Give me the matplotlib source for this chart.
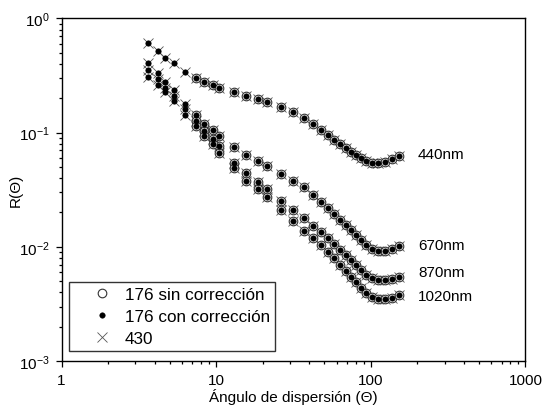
import matplotlib
matplotlib.use("Agg")
import matplotlib.pyplot as plt
from matplotlib.ticker import LogLocator, NullFormatter, FixedLocator, FixedFormatter

plt.rcParams['font.family'] = ['Liberation Sans', 'DejaVu Sans']
plt.rcParams['mathtext.fontset'] = 'custom'
plt.rcParams['mathtext.rm'] = 'Liberation Sans'
plt.rcParams['mathtext.it'] = 'Liberation Sans'
plt.rcParams['mathtext.bf'] = 'Liberation Sans'

# Scattering angles (degrees)
angles = [3.6, 4.2, 4.7, 5.3, 6.3, 7.4, 8.4, 9.5, 10.5, 13.1, 15.7, 18.6, 21.2,
          26.3, 31.6, 36.8, 42.2, 47.6, 52.8, 58.2, 63.6, 69.0, 74.6, 80.5,
          86.7, 93.4, 101.6, 112.0, 123.4, 136.9, 151.9]

r440 = [0.610, 0.516, 0.448, 0.405, 0.338, 0.2996, 0.2797, 0.2617, 0.2463,
        0.2286, 0.2109, 0.1973, 0.1846, 0.1669, 0.1502, 0.1345, 0.1192,
        0.1062, 0.0955, 0.0863, 0.0788, 0.0727, 0.0678, 0.0632, 0.0594,
        0.0565, 0.0545, 0.0540, 0.0556, 0.0588, 0.0629]
r670 = [0.405, 0.3312, 0.2797, 0.2365, 0.1784, 0.1429, 0.1192, 0.1062, 0.0930,
        0.0745, 0.0638, 0.0569, 0.0514, 0.0435, 0.0380, 0.0333, 0.0285,
        0.0247, 0.0219, 0.0192, 0.0172, 0.0154, 0.0139, 0.0126, 0.01138,
        0.01039, 0.00949, 0.00926, 0.00926, 0.00958, 0.01024]
r870 = [0.3561, 0.2953, 0.2447, 0.2109, 0.1612, 0.1273, 0.1041, 0.0881, 0.0760,
        0.0543, 0.0444, 0.0370, 0.0321, 0.0254, 0.0212, 0.0178, 0.0153,
        0.0135, 0.01185, 0.0106, 0.00939, 0.00841, 0.00760, 0.00687, 0.00621,
        0.00567, 0.00529, 0.00513, 0.00513, 0.00524, 0.00547]
r1020 = [0.3055, 0.2617, 0.2259, 0.1906, 0.1429, 0.1151, 0.0941, 0.0796, 0.0664,
         0.0488, 0.0380, 0.0321, 0.0272, 0.0212, 0.01696, 0.01386, 0.01185,
         0.01029, 0.00902, 0.00791, 0.00694, 0.00615, 0.00545, 0.00488,
         0.00437, 0.00395, 0.00364, 0.00350, 0.00346, 0.00357, 0.00379]

curves = [r440, r670, r870, r1020]
curve_labels = ["440nm", "670nm", "870nm", "1020nm"]
label_x = 202.0
label_y = [0.0651, 0.01045, 0.00599, 0.00374]
sin_start = 5  # "sin corrección" series begins at 7.4 deg

series_names = ["176 sin corrección", "176 con corrección", "430"]

fig = plt.figure(figsize=(5.42, 4.06), dpi=100)
ax = fig.add_axes([0.1135, 0.1084, 0.856, 0.8436])

for i, r in enumerate(curves):
    ax.plot(angles[sin_start:], r[sin_start:], linestyle='none', marker='o',
            ms=6.2, mfc='white', mec='#333333', mew=0.8, zorder=3,
            label=series_names[0] if i == 0 else None)
    ax.plot(angles, r, linestyle='none', marker='o', ms=4.0, mfc='black',
            mec='black', mew=0.3, zorder=4,
            label=series_names[1] if i == 0 else None)
    ax.plot(angles, r, linestyle='none', marker='x', ms=7.0, color='#555555',
            mew=0.6, zorder=2, label=series_names[2] if i == 0 else None)

for lab, yy in zip(curve_labels, label_y):
    ax.text(label_x, yy, lab, fontsize=11, va='center', ha='left')

ax.set_xscale('log')
ax.set_yscale('log')
ax.set_xlim(1, 1000)
ax.set_ylim(1e-3, 1)

ax.xaxis.set_major_locator(FixedLocator([1, 10, 100, 1000]))
ax.xaxis.set_major_formatter(FixedFormatter(["1", "10", "100", "1000"]))
ax.xaxis.set_minor_locator(LogLocator(base=10, subs=range(2, 10)))
ax.xaxis.set_minor_formatter(NullFormatter())
ax.yaxis.set_major_locator(FixedLocator([1e-3, 1e-2, 1e-1, 1]))
ax.yaxis.set_major_formatter(FixedFormatter([r"$10^{-3}$", r"$10^{-2}$",
                                             r"$10^{-1}$", r"$10^{0}$"]))
ax.yaxis.set_minor_locator(LogLocator(base=10, subs=range(2, 10)))
ax.yaxis.set_minor_formatter(NullFormatter())

ax.tick_params(which='both', direction='out', top=False, right=False,
               width=0.9, labelsize=11)
ax.tick_params(which='major', length=4.5, pad=4)
ax.tick_params(which='minor', length=2.5)
for s in ax.spines.values():
    s.set_linewidth(1.0)

ax.set_xlabel("Ángulo de dispersión (Θ)", fontsize=11, labelpad=1)
ax.set_ylabel("R(Θ)", fontsize=11, labelpad=-2.5)

leg = ax.legend(loc='lower left', bbox_to_anchor=(0.016, 0.029),
                borderaxespad=0, fontsize=12.3, frameon=True, fancybox=False,
                edgecolor='black', borderpad=0.3, handlelength=3.26,
                handletextpad=-0.29, labelspacing=0.4, numpoints=1)
leg.get_frame().set_linewidth(1.0)

fig.savefig("out.png", dpi=100)
